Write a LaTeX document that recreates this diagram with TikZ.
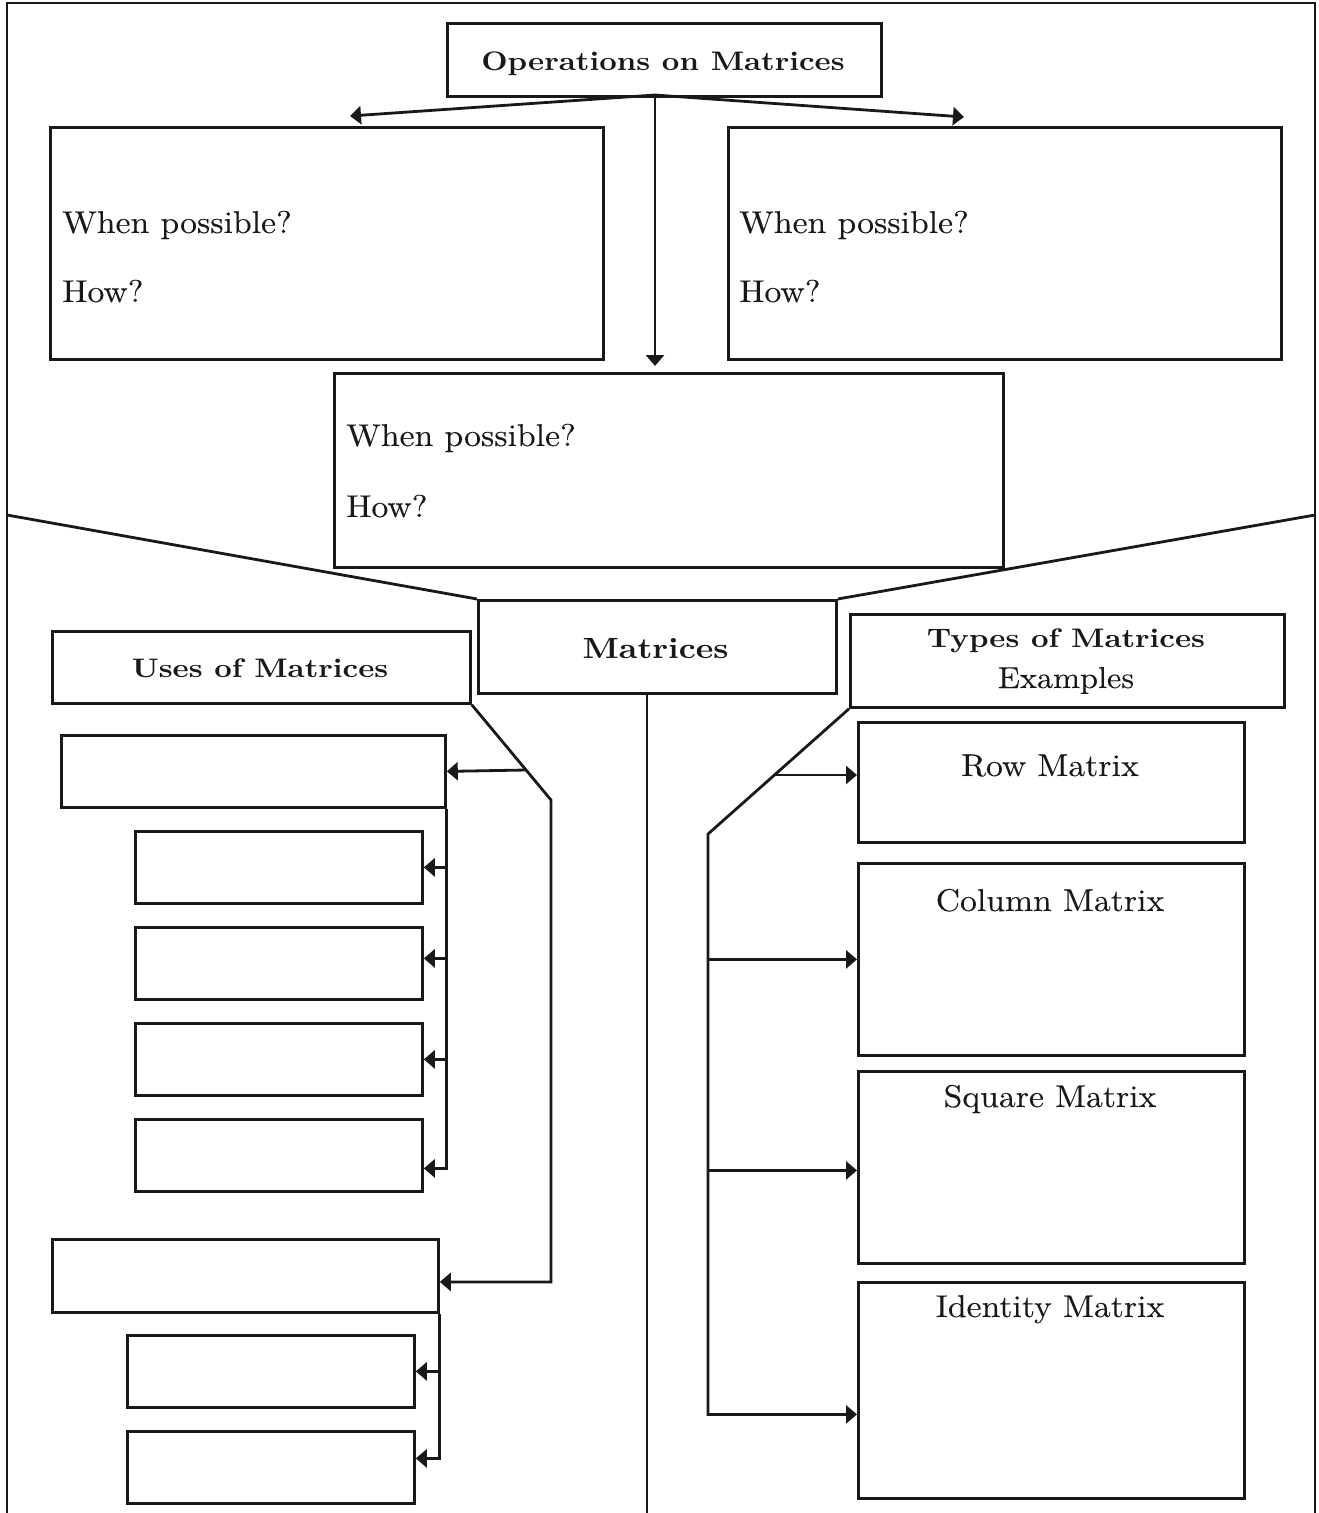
\documentclass[tikz,border=0pt]{standalone}
\usepackage{fontspec}
\usetikzlibrary{arrows.meta,calc}
% widened, slightly heavier Latin Modern for a schoolbook look
\newfontfamily\fmreg{lmroman10-regular.otf}[FakeStretch=1.07, FakeBold=0.1]
\newfontfamily\fmbold{lmroman10-bold.otf}[FakeStretch=1.14]
\newcommand\txtreg{\fmreg\fontsize{31.5}{38}\selectfont}
\newcommand\txtsmall{\fmreg\fontsize{30.2}{36}\selectfont}
\newcommand\txtbold{\fmbold\fontsize{26.8}{32}\selectfont}
\newcommand\txtbig{\fmbold\fontsize{29.2}{35}\selectfont}
\begin{document}
\begin{tikzpicture}[x=1pt,y=-1pt,
  ln/.style={line width=2.8pt, draw=black!90},
  box/.style={ln, draw, anchor=north west, inner sep=0pt, rectangle},
  arr/.style={ln, -{Triangle[length=11pt,width=18pt]}},
  lbl/.style={inner sep=0pt, text=black!90}]
\useasboundingbox[fill=white] (0,0) rectangle (1318,1513);

% outer frame, open at the bottom
\coordinate (fbl) at (7,1513);
\coordinate (ftl) at (7,3);
\coordinate (ftr) at (1315,3);
\coordinate (fbr) at (1315,1513);
\draw[ln] (fbl) -- (ftl) -- (ftr) -- (fbr);

% operations part
\node[box, minimum width=434pt, minimum height=73pt] (ops) at (446,22) {};
\node[lbl, anchor=base] (opsT) at (663,70) {\txtbold Operations on Matrices};

\node[box, minimum width=553pt, minimum height=232pt] (opL) at (49,126) {};
\node[lbl, anchor=base west] (opLa) at (62,233) {\txtreg When possible?};
\node[lbl, anchor=base west] (opLb) at (62,302) {\txtreg How?};

\node[box, minimum width=553pt, minimum height=232pt] (opR) at (727,126) {};
\node[lbl, anchor=base west] (opRa) at (739,233) {\txtreg When possible?};
\node[lbl, anchor=base west] (opRb) at (739,302) {\txtreg How?};

\node[box, minimum width=669pt, minimum height=194pt] (opM) at (333,372) {};
\node[lbl, anchor=base west] (opMa) at (346,446) {\txtreg When possible?};
\node[lbl, anchor=base west] (opMb) at (346,517) {\txtreg How?};

\coordinate (hub) at (655,95);
\coordinate (tipL) at (350,116);
\coordinate (tipR) at (964,117);
\draw[arr] (hub) -- (tipL);
\draw[arr] (hub) -- (tipR);
\draw[arr] (hub) -- ([yshift=6pt]opM.north -| hub);

% central node and funnel
\node[box, minimum width=358pt, minimum height=93pt] (mat) at (477,599) {};
\node[lbl, anchor=base] (matT) at (655.5,658) {\txtbig Matrices};
\coordinate (fl) at (7,515);
\coordinate (fr) at (1315,515);
\draw[ln] (fl) -- (mat.north west);
\draw[ln] (mat.north east) -- (fr);
\coordinate (midb) at (647,1513);
\draw[ln] (mat.south -| midb) -- (midb);

% uses of matrices
\node[box, minimum width=418pt, minimum height=72pt] (uses) at (51,630) {};
\node[lbl, anchor=base] (usesT) at (260,677) {\txtbold Uses of Matrices};

\node[box, minimum width=384pt, minimum height=72pt] (A1) at (60,734) {};
\node[box, minimum width=287pt, minimum height=72pt] (a1) at (134,830) {};
\node[box, minimum width=287pt, minimum height=72pt] (a2) at (134,926) {};
\node[box, minimum width=287pt, minimum height=72pt] (a3) at (134,1022) {};
\node[box, minimum width=287pt, minimum height=72pt] (a4) at (134,1118) {};
\node[box, minimum width=386pt, minimum height=73pt] (B) at (51,1238) {};
\node[box, minimum width=287pt, minimum height=72pt] (b1) at (126,1334) {};
\node[box, minimum width=287pt, minimum height=72pt] (b2) at (126,1430) {};

\coordinate (dl) at (551,800);
\coordinate (jl) at (526,770);
\draw[arr] (uses.south east) -- (dl) |- ([yshift=-6pt]B.east);
\draw[arr] (jl) -- (A1.east);
\draw[arr] (A1.south east) |- ([yshift=-13pt]a4.east);
\draw[arr] (A1.south east |- a1.east) -- (a1.east);
\draw[arr] ([yshift=5pt]A1.south east |- a2.east) -- ([yshift=5pt]a2.east);
\draw[arr] (A1.south east |- a3.east) -- (a3.east);
\draw[arr] (B.south east) |- ([yshift=9pt]b2.east);
\draw[arr] (B.south east |- b1.east) -- (b1.east);

% types of matrices
\node[box, minimum width=434pt, minimum height=93pt] (types) at (849,613) {};
\node[lbl, anchor=base] (typesT) at (1066,647) {\txtbold Types of Matrices};
\node[lbl, anchor=base] (typesE) at (1066,688) {\txtsmall Examples};

\node[box, minimum width=386pt, minimum height=120pt] (row) at (857,721) {};
\node[lbl, anchor=base] (rowT) at (1050,776) {\txtreg Row Matrix};
\node[box, minimum width=386pt, minimum height=192pt] (col) at (857,862) {};
\node[lbl, anchor=base] (colT) at (1050,911) {\txtreg Column Matrix};
\node[box, minimum width=386pt, minimum height=192pt] (sq) at (857,1070) {};
\node[lbl, anchor=base] (sqT) at (1050,1107) {\txtreg Square Matrix};
\node[box, minimum width=386pt, minimum height=216pt] (ident) at (857,1281) {};
\node[lbl, anchor=base] (identT) at (1050,1317) {\txtreg Identity Matrix};

\coordinate (dr) at (708,834);
\coordinate (jr) at (773,775);
\draw[arr] (types.south west) -- (dr) |- ([yshift=-24pt]ident.west);
\draw[arr] (jr) -- (jr -| row.west);
\draw[arr] (dr |- col.west) -- (col.west);
\draw[arr] ([yshift=-3pt]dr |- sq.west) -- ([yshift=-3pt]sq.west);
\end{tikzpicture}
\end{document}
